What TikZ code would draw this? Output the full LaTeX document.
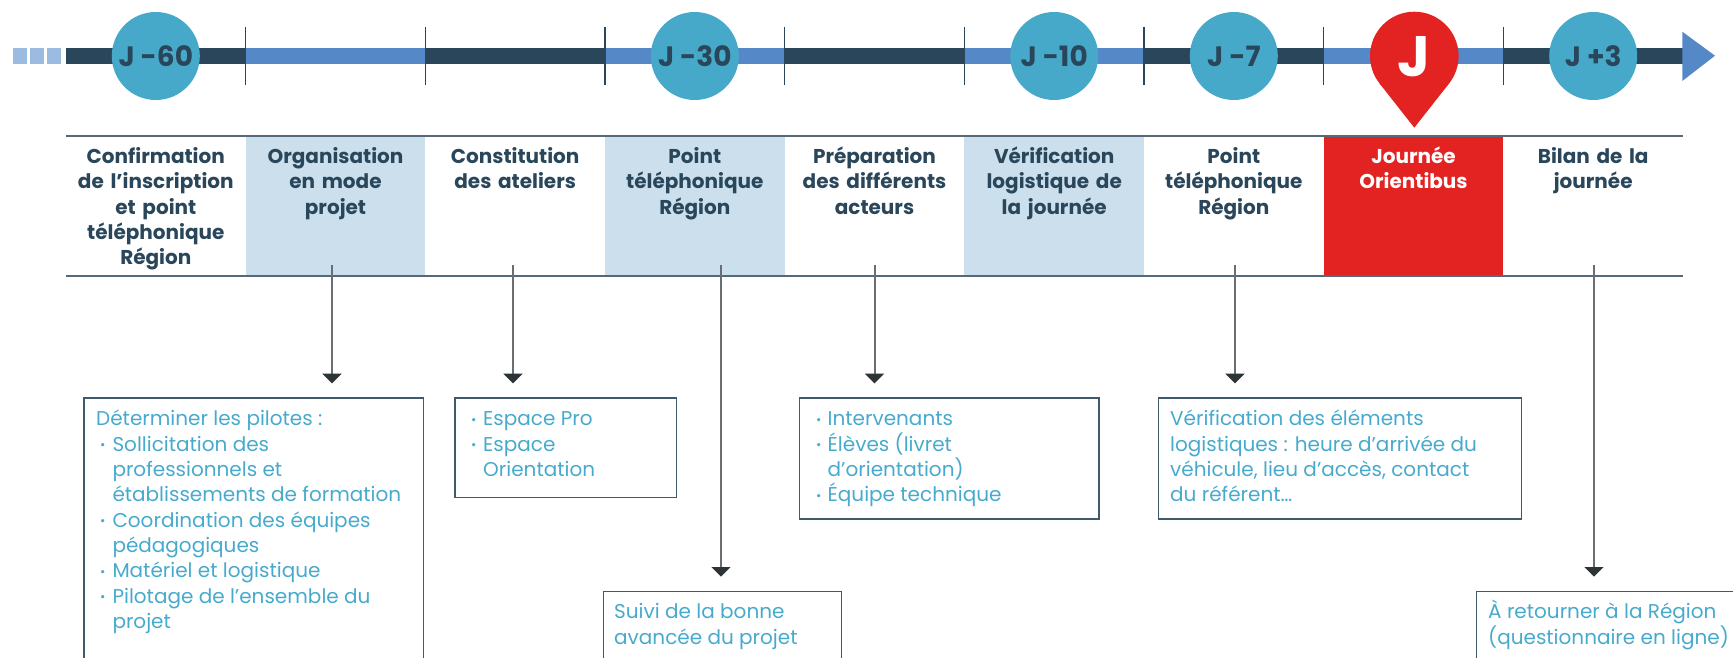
\documentclass[tikz,border=0pt]{standalone}
\usepackage{fontspec}
\setmainfont{Poppins}
\usetikzlibrary{arrows.meta}
\definecolor{navy}{HTML}{29465A}
\definecolor{barblue}{HTML}{5588C7}
\definecolor{sqblue}{HTML}{9BBBE0}
\definecolor{circc}{HTML}{46A9C9}
\definecolor{cellblue}{HTML}{CBDFEC}
\definecolor{pinred}{HTML}{E32322}
\definecolor{desctext}{HTML}{47AACD}
\definecolor{framec}{HTML}{405A6C}
\definecolor{rowline}{HTML}{56697A}
\definecolor{arrgray}{HTML}{6B6E70}
\definecolor{arrdark}{HTML}{2D3436}
\newcommand{\hstrut}{\rule{0pt}{21pt}}
\newcommand{\bul}[1]{\makebox[#1][l]{\fontsize{13}{13}\selectfont\raisebox{1.5pt}{•}}}
\begin{document}
\begin{tikzpicture}[x=1pt,y=-1pt,
  hdr/.style={anchor=north, text width=179pt, align=center, inner sep=0pt,
    font=\fontsize{20}{25.3}\selectfont\bfseries, text=navy},
  desc/.style={anchor=north west, align=left, inner sep=0pt,
    font=\fontsize{20}{25.3}\selectfont, text=desctext},
  framebox/.style={draw=framec, line width=1.5pt, anchor=north west, inner sep=0pt, minimum width=#1},
  dayc/.style={circle, fill=circc, minimum size=88pt, inner sep=0pt,
    font=\fontsize{28}{28}\selectfont\bfseries, text=navy},
  arr/.style={draw=arrgray, line width=2pt, shorten >=14pt,
    -{Triangle[width=18.7pt,length=9.6pt,color=arrdark]}},
  tick/.style={draw=navy, line width=1.2pt},
  rowl/.style={draw=rowline, line width=1.6pt}]
\useasboundingbox (0,0) rectangle (1733,658);
\clip (0,0) rectangle (1733,658);
% squares
\fill[sqblue] (13.3,48) rectangle (26.7,63.7);
\fill[sqblue] (30,48) rectangle (44,63.7);
\fill[sqblue] (47,48) rectangle (61,63.7);
% bar segments
\fill[navy] (66,48) rectangle (245.7,63.7);
\fill[barblue] (245.7,48) rectangle (425.3,63.7);
\fill[navy] (425.3,48) rectangle (605,63.7);
\fill[barblue] (605,48) rectangle (784.7,63.7);
\fill[navy] (784.7,48) rectangle (964.3,63.7);
\fill[barblue] (964.3,48) rectangle (1144,63.7);
\fill[navy] (1144,48) rectangle (1323.7,63.7);
\fill[barblue] (1323.7,48) rectangle (1503.3,63.7);
\fill[navy] (1503.3,48) rectangle (1683,63.7);
\fill[barblue] (1682.3,31.7) -- (1715,55.7) -- (1682.3,81) -- cycle;
% ticks
\foreach \b in {245.7,425.3,605,784.7,964.3,1144,1323.7,1503.3}
  \draw[tick] (\b,27) -- (\b,85);
% day circles
\node[dayc] (c0) at (155.8,56) {J -60};
\node[dayc] (c3) at (694.8,56) {J -30};
\node[dayc] (c5) at (1054.2,56) {J -10};
\node[dayc] (c6) at (1233.8,56) {J -7};
\node[dayc] (c8) at (1593.2,56) {J +3};
% pin
\fill[pinred] (1414.3,56) circle[radius=44.3];
\fill[pinred] (1379.5,83.4) -- (1449.1,83.4) -- (1414.3,127.7) -- cycle;
\node[font=\fontsize{57}{57}\selectfont\bfseries, text=white, inner sep=0pt] (cj) at (1414.3,56.5) {J};
% header cells
\fill[cellblue] (245.7,136) rectangle (425.3,276);
\fill[cellblue] (605,136) rectangle (784.7,276);
\fill[cellblue] (964.3,136) rectangle (1144,276);
\fill[pinred] (1323.7,136) rectangle (1503.3,276);
\draw[rowl] (66,136) -- (1683,136);
\draw[rowl] (66,276) -- (1683,276);
\node[hdr] (h0) at (155.8,142.3) {\hstrut Confirmation\\de l’inscription\\et point\\téléphonique\\Région};
\node[hdr] (h1) at (335.5,142.3) {\hstrut Organisation\\en mode\\projet};
\node[hdr] (h2) at (515.2,142.3) {\hstrut Constitution\\des ateliers};
\node[hdr] (h3) at (694.8,142.3) {\hstrut Point\\téléphonique\\Région};
\node[hdr] (h4) at (874.5,142.3) {\hstrut Préparation\\des différents\\acteurs};
\node[hdr] (h5) at (1054.2,142.3) {\hstrut Vérification\\logistique de\\la journée};
\node[hdr] (h6) at (1233.8,142.3) {\hstrut Point\\téléphonique\\Région};
\node[hdr, text=white] (h7) at (1413.5,142.3) {\hstrut Journée\\Orientibus};
\node[hdr] (h8) at (1593.2,142.3) {\hstrut Bilan de la\\journée};
% frames
\node[framebox=339.4pt, minimum height=300pt] (f1) at (83.3,397.3) {};
\node[framebox=221.4pt, minimum height=99.4pt] (f2) at (454.3,397.3) {};
\node[framebox=238.4pt, minimum height=100pt] (f3) at (602.5,590.7) {};
\node[framebox=299.9pt, minimum height=121pt] (f4) at (798.5,397.3) {};
\node[framebox=363pt, minimum height=121pt] (f5) at (1157.8,397.3) {};
\node[framebox=300pt, minimum height=100pt] (f6) at (1475.8,590.7) {};
% texts
\node[desc] (d1) at (96,404.7) {\hstrut Déterminer les pilotes :\\
\hspace*{4pt}\bul{12.3pt}Sollicitation des\\
\hspace*{16.3pt}professionnels et\\
\hspace*{16.3pt}établissements de formation\\
\hspace*{4pt}\bul{12.3pt}Coordination des équipes\\
\hspace*{16.3pt}pédagogiques\\
\hspace*{4pt}\bul{12.3pt}Matériel et logistique\\
\hspace*{4pt}\bul{12.3pt}Pilotage de l’ensemble du\\
\hspace*{16.3pt}projet};
\node[desc] (d2) at (471,404.7) {\hstrut\bul{12pt}Espace Pro\\
\bul{12pt}Espace\\
\hspace*{12pt}Orientation};
\node[desc] (d3) at (614,597.7) {\hstrut Suivi de la bonne\\avancée du projet};
\node[desc] (d4) at (816,404.7) {\hstrut\bul{11.5pt}Intervenants\\
\bul{11.5pt}Élèves (livret\\
\hspace*{11.5pt}d’orientation)\\
\bul{11.5pt}Équipe technique};
\node[desc] (d5) at (1170,404.7) {\hstrut Vérification des éléments\\logistiques : heure d’arrivée du\\véhicule, lieu d’accès, contact\\du référent…};
\node[desc] (d6) at (1488,597.7) {\hstrut À retourner à la Région\\(questionnaire en ligne)};
% connectors
\coordinate (a1) at (332,265);
\coordinate (a2) at (513,265);
\coordinate (a3) at (721,265);
\coordinate (a4) at (874.5,265);
\coordinate (a5) at (1235,265);
\coordinate (a6) at (1594,265);
\draw[arr] (a1) -- (a1 |- f1.north);
\draw[arr] (a2) -- (a2 |- f2.north);
\draw[arr] (a3) -- (a3 |- f3.north);
\draw[arr] (a4) -- (a4 |- f4.north);
\draw[arr] (a5) -- (a5 |- f5.north);
\draw[arr] (a6) -- (a6 |- f6.north);
\end{tikzpicture}
\end{document}
